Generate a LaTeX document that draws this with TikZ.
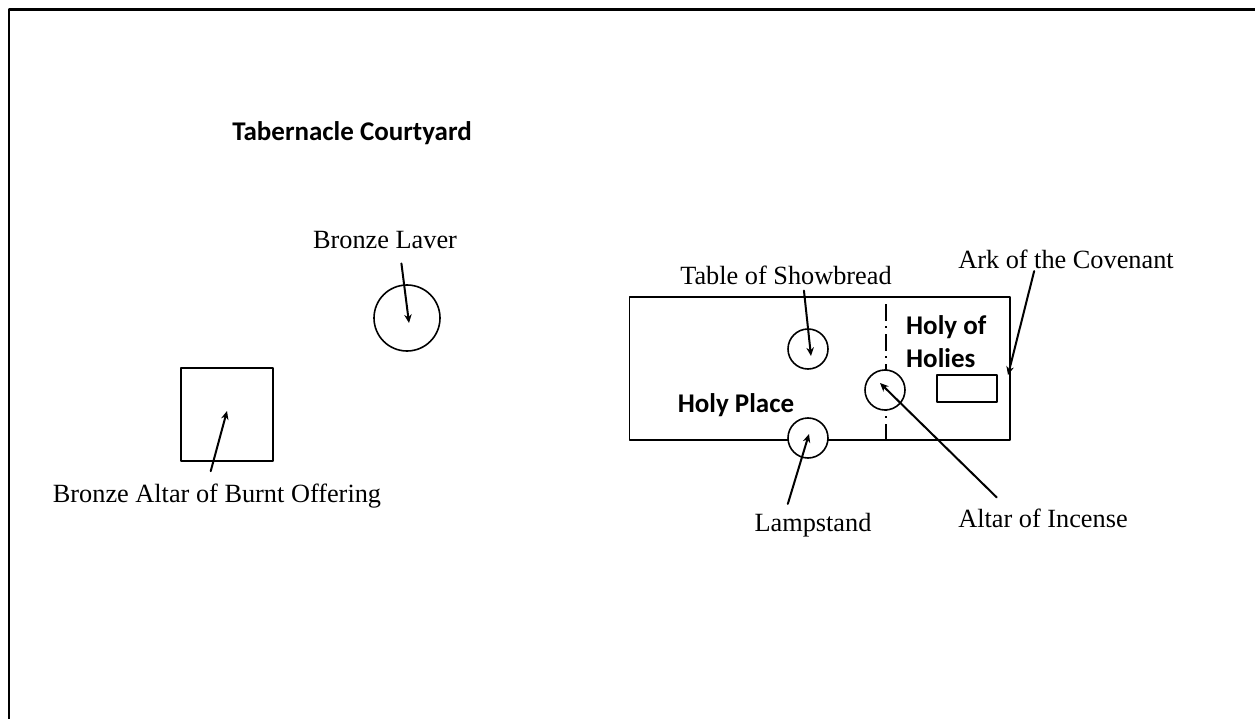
\documentclass[tikz,border=0pt]{standalone}
\usetikzlibrary{arrows.meta}
\usepackage{fontspec}
\setmainfont{Liberation Serif}
\newfontfamily\roomfont{Carlito}[BoldFont={Carlito Bold}]
\tikzset{
  outline/.style={line width=1.6pt},
  vessel/.style={circle,draw,fill=white,line width=1.6pt,inner sep=0pt,minimum size=#1},
  pointer/.style={-{Stealth[length=8.5pt,width=7.5pt]},line width=2pt},
  item/.style={font=\fontsize{26.3}{30}\selectfont,inner xsep=0pt,inner ysep=#1},
  room/.style={font=\roomfont\bfseries\fontsize{27}{33}\selectfont,align=left,inner sep=0pt},
}
\begin{document}
\begin{tikzpicture}[line cap=round,line join=round,x=1pt,y=-1pt]
\useasboundingbox (0,0) rectangle (1255,719);
% page frame
\draw[line width=2.3pt,line cap=butt] (9.2,719)--(9.2,9.6)--(1255,9.6);
\node[room] (court) at (352,133) {Tabernacle Courtyard};
% courtyard
\draw[outline] (181,368) rectangle (273,461);
\node[vessel=66pt] (laver) at (407,318) {};
\coordinate (altartip) at (227,411);
\coordinate (lavertip) at (409,323);
\node[item=14.5pt] (laverlabel) at (385,240) {Bronze Laver};
\node[item=13pt] (altarlabel) at (217,496.5) {Bronze Altar of Burnt Offering};
\draw[pointer] (altarlabel.104)--(altartip);
\draw[pointer] (laverlabel.-55)--(lavertip);
% tent
\draw[outline] (629.5,297) rectangle (1010,440);
\draw[outline,line cap=butt,dash pattern=on 17pt off 5pt on 2pt off 6pt,dash phase=23pt] (886,297)--(886,440);
\node[vessel=40pt] (bread) at (808,349) {};
\node[vessel=40pt] (lamp) at (808,438) {};
\node[vessel=40pt] (incense) at (885,390) {};
\draw[outline] (937,375) rectangle (997,402);
\node[room] (holyplace) at (736,405.5) {Holy Place};
\node[room,anchor=north west] (holiest) at (906,315) {Holy of\\Holies};
\coordinate (breadtip) at (811,356);
\coordinate (lamptip) at (809,434);
\coordinate (incensetip) at (880,383);
\coordinate (arktip) at (1008,375);
\node[item=6pt] (breadlabel) at (786,275) {Table of Showbread};
\node[item=9pt] (lamplabel) at (813,525) {Lampstand};
\node[item=11pt] (incenselabel) at (1043,518) {Altar of Incense};
\node[item=2pt] (arklabel) at (1066,259.5) {Ark of the Covenant};
\draw[pointer] (breadlabel.-41)--(breadtip);
\draw[pointer] (lamplabel.140)--(lamptip);
\draw[pointer] (incenselabel.156.5)--(incensetip);
\draw[pointer] (arklabel.200.8)--(arktip);
\end{tikzpicture}
\end{document}
